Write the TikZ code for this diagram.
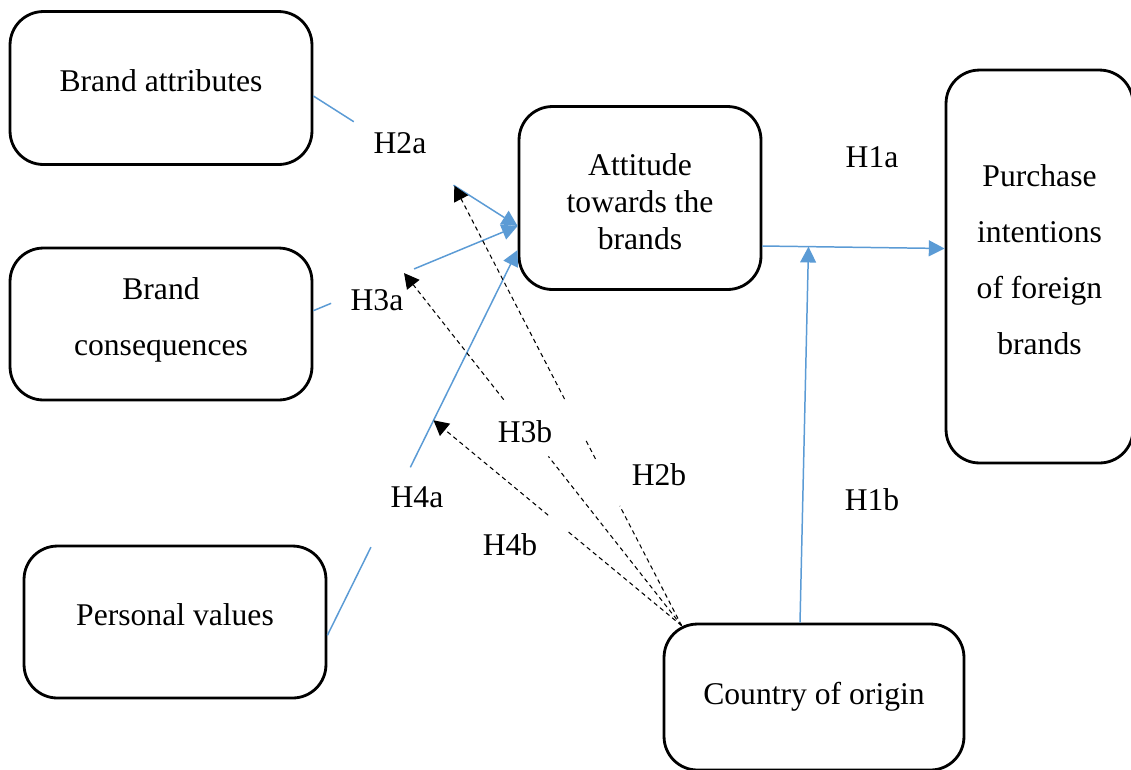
\documentclass[tikz,border=0pt]{standalone}
\usepackage{fontspec}
\setmainfont{Liberation Serif}
\usepackage{xcolor}
\usetikzlibrary{arrows.meta,calc}
\definecolor{relblue}{RGB}{91,155,213}
\newcommand{\sinkby}[1]{\rule[-#1]{0pt}{#1}}

\begin{document}
\begin{tikzpicture}[x=0.02cm, y=-0.02cm,
  box/.style={draw, line width=1.6pt, rounded corners=19pt, align=center, font=\fontsize{18}{21}\selectfont},
  rel/.style={draw=relblue, line width=0.85pt},
  relarrow/.style={rel, -{Triangle[length=9pt,width=9pt]}},
  mod/.style={draw=black, line width=0.6pt, dash pattern=on 2.5pt off 2pt},
  modarrow/.style={mod, -{Triangle[length=8.5pt,width=9pt]}},
  hyp/.style={font=\fontsize{18}{21}\selectfont}]

\useasboundingbox (0,0) rectangle (1131,769);

\node[box, minimum width=6.04cm, minimum height=3.06cm] (attr) at (161,88) {Brand attributes\sinkby{9pt}};
\node[box, minimum width=6.04cm, minimum height=3.04cm, font=\fontsize{18}{31.7}\selectfont] (cons) at (161,324) {Brand\\consequences\sinkby{8.5pt}};
\node[box, minimum width=6.04cm, minimum height=3.04cm] (values) at (175,622) {Personal values\sinkby{9pt}};
\node[box, minimum width=4.84cm, minimum height=3.66cm] (attitude) at (640,198) {\rule{0pt}{17pt}Attitude\\towards the\\brands};
\node[box, minimum width=3.74cm, minimum height=7.86cm, font=\fontsize{18}{31.7}\selectfont] (intent) at (1039.5,266.5) {Purchase\\intentions\\of foreign\\brands\sinkby{8pt}};
\node[box, minimum width=6cm, minimum height=2.92cm] (origin) at (814,697) {Country of origin};

\coordinate (attin1) at ($(attitude.west)+(0,28)$);
\coordinate (attin2) at ($(attitude.west)+(0,52)$);
\coordinate (attout) at ($(attitude.east)+(0,48)$);
\coordinate (intentin) at ($(intent.west)+(0,-18)$);
\coordinate (originout) at ($(origin.north)+(-14,0)$);
\coordinate (origincorner) at ($(origin.north west)+(19,3)$);

\path (attr.-3) -- (attin1) coordinate[pos=0.198] (h2a-1) coordinate[pos=0.686] (h2a-2) coordinate[pos=0.69] (h2a-tip);
\path (cons.5) -- (attin1) coordinate[pos=0.087] (h3a-1) coordinate[pos=0.493] (h3a-2) coordinate[pos=0.444] (h3a-tip);
\path (values.-5) -- (attin2) coordinate[pos=0.229] (h4a-1) coordinate[pos=0.436] (h4a-2) coordinate[pos=0.558] (h4a-tip);
\path (attout) -- (intentin) coordinate[pos=0.253] (join);

\draw[rel] (attr.-3) -- (h2a-1);
\draw[relarrow] (h2a-2) -- (attin1);

\draw[rel] (cons.5) -- (h3a-1);
\draw[relarrow] (h3a-2) -- (attin1);

\draw[rel] (values.-5) -- (h4a-1);
\draw[relarrow] (h4a-2) -- (attin2);

\draw[relarrow] (attout) -- (intentin);
\draw[relarrow] (originout) -- (join);

\path (origincorner) -- (h2a-tip) coordinate[pos=0.272] (h2b-1) coordinate[pos=0.379] (h2b-2) coordinate[pos=0.424] (h2b-3) coordinate[pos=0.515] (h2b-4);
\path (origincorner) -- (h3a-tip) coordinate[pos=0.48] (h3b-1) coordinate[pos=0.641] (h3b-2);
\path (origincorner) -- (h4a-tip) coordinate[pos=0.466] (h4b-1) coordinate[pos=0.538] (h4b-2);

\draw[mod] (origincorner) -- (h2b-1);
\draw[mod] (h2b-2) -- (h2b-3);
\draw[modarrow] (h2b-4) -- (h2a-tip);

\draw[mod] (origincorner) -- (h3b-1);
\draw[modarrow] (h3b-2) -- (h3a-tip);

\draw[mod] (origincorner) -- (h4b-1);
\draw[modarrow] (h4b-2) -- (h4a-tip);

\node[hyp] (h1a) at (872,157) {H1a};
\node[hyp] (h1b) at (872,500) {H1b};
\node[hyp] (h2a) at (400,143) {H2a};
\node[hyp] (h3a) at (377,300) {H3a};
\node[hyp] (h4a) at (417,497) {H4a};
\node[hyp] (h2b) at (659,475) {H2b};
\node[hyp] (h3b) at (525,432) {H3b};
\node[hyp] (h4b) at (510,545) {H4b};

\end{tikzpicture}
\end{document}
